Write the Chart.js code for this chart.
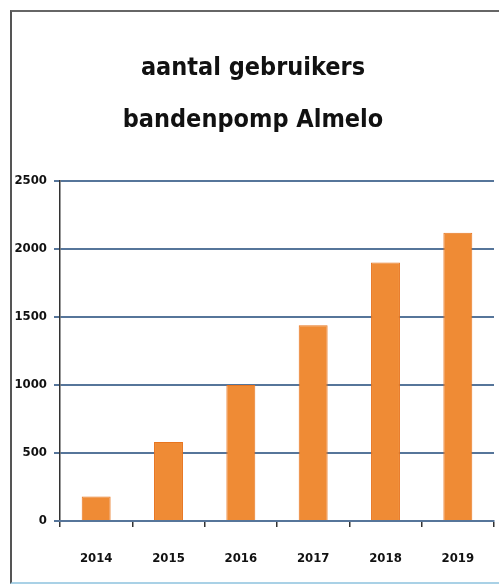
<!DOCTYPE html>
<html>
<head>
<meta charset="utf-8">
<script src="https://cdn.jsdelivr.net/npm/chart.js@4/dist/chart.umd.min.js"></script>
<style>
  html, body { margin: 0; padding: 0; background: #fff; }
  .wrap { position: relative; width: 499px; height: 587px; overflow: hidden; }
  .frame {
    position: absolute; left: 10px; top: 10px; width: 600px; height: 570px;
    border-left: 2px solid #555; border-top: 2px solid #666; border-bottom: 2px solid #a9d1e6;
  }
  canvas { position: absolute; left: 0; top: 0; }
</style>
</head>
<body>
<div class="wrap">
  <div class="frame"></div>
  <canvas id="chart-1" width="499" height="587"></canvas>
</div>
<script>
// data
const years = ['2014', '2015', '2016', '2017', '2018', '2019'];
const users = [180, 580, 1000, 1440, 1900, 2120];
const titleLines = ['aantal gebruikers', 'bandenpomp Almelo'];

const narrow = "'DejaVu Sans Condensed', 'Liberation Sans Narrow', 'Liberation Sans', sans-serif";

const ctx = document.getElementById('chart-1').getContext('2d');

new Chart(ctx, {
  type: 'bar',
  data: {
    labels: years,
    datasets: [
      {
        label: 'aantal gebruikers',
        data: users,
        backgroundColor: '#ef8b35',
        borderColor: '#e8751f',
        borderWidth: 1,
        categoryPercentage: 1,
        barPercentage: 0.4,
      },
    ],
  },
  options: {
    responsive: false,
    animation: false,
    layout: {
      padding: { left: 12, right: 5, top: 0, bottom: 18 },
    },
    plugins: {
      legend: { display: false },
      tooltip: { enabled: false },
      title: {
        display: true,
        text: titleLines,
        color: '#111',
        font: { family: narrow, size: 25, weight: 'bold', lineHeight: 2.08 },
        padding: { top: 42, bottom: 35 },
      },
    },
    scales: {
      y: {
        min: 0,
        max: 2500,
        ticks: {
          stepSize: 500,
          color: '#111',
          padding: 7,
          font: { family: narrow, size: 13, weight: 'bold' },
          callback: (value) => String(value),
        },
        grid: {
          color: '#56759a',
          lineWidth: 2,
          tickLength: 6,
          tickColor: '#56759a',
        },
        border: { display: true, color: '#333', width: 1.5 },
        afterFit: (scale) => {
          scale.width = 48;
        },
      },
      x: {
        offset: true,
        ticks: {
          color: '#111',
          padding: 24,
          font: { family: narrow, size: 13, weight: 'bold' },
        },
        grid: {
          offset: true,
          drawOnChartArea: false,
          tickLength: 6,
          tickColor: '#333',
          lineWidth: 1.5,
        },
        border: { display: true, color: '#56759a', width: 2 },
        afterFit: (scale) => {
          scale.height = 48;
        },
      },
    },
  },
});
</script>
</body>
</html>
